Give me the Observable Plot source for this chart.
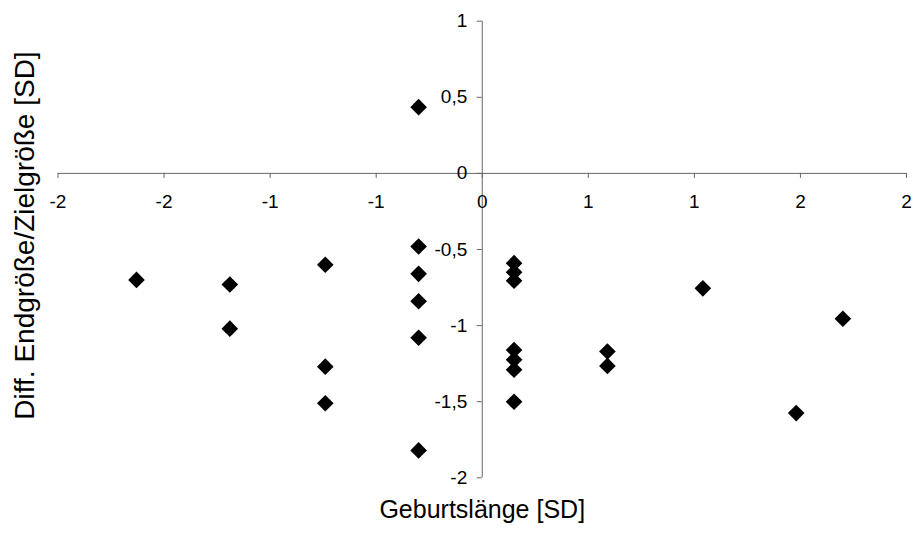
<!DOCTYPE html>
<html><head><meta charset="utf-8">
<script src="https://cdn.jsdelivr.net/npm/d3@7"></script>
<script src="https://cdn.jsdelivr.net/npm/@observablehq/plot@0.6"></script>
<style>html,body{margin:0;padding:0;background:#fff}svg{display:block}</style>
</head><body><div id="chart"></div>
<script>
// Data
const birthLength = [-1.63, -1.19, -1.19, -0.74, -0.74, -0.74, -0.30, -0.30, -0.30, -0.30, -0.30, -0.30,
  0.15, 0.15, 0.15, 0.15, 0.15, 0.15, 0.15, 0.59, 0.59, 1.04, 1.48, 1.70];
const heightDiff = [-0.70, -0.73, -1.02, -0.60, -1.27, -1.51, 0.435, -0.48, -0.66, -0.84, -1.08, -1.82,
  -0.59, -0.65, -0.705, -1.16, -1.225, -1.29, -1.50, -1.17, -1.265, -0.755, -1.575, -0.955];

const xTicks = [-2, -1.5, -1, -0.5, 0, 0.5, 1, 1.5, 2];
const xTickLabels = ["-2", "-2", "-1", "-1", "0", "1", "1", "2", "2"];
const yTicks = [1, 0.5, 0, -0.5, -1, -1.5, -2];
const yTickLabels = ["1", "0,5", "0", "-0,5", "-1", "-1,5", "-2"];
const xTitle = "Geburtslänge [SD]";
const yTitle = "Diff. Endgröße/Zielgröße [SD]";

const points = birthLength.map((x, i) => ({x, y: heightDiff[i]}));
const axisColor = "#666";

const chart = Plot.plot({
  width: 913,
  height: 534,
  marginLeft: 57.5,
  marginRight: 7,
  marginTop: 20.7,
  marginBottom: 56.7,
  style: {fontFamily: "'Liberation Sans', Arial, Helvetica, sans-serif", background: "#fff", color: "#000"},
  x: {domain: [-2, 2], axis: null},
  y: {domain: [-2, 1], axis: null},
  marks: [
    // axes crossing at the origin
    Plot.ruleY([0], {x1: -2, x2: 2, stroke: axisColor, strokeWidth: 1}),
    Plot.ruleX([0], {y1: -2, y2: 1, stroke: axisColor, strokeWidth: 1}),
    // x ticks (downwards)
    Plot.ruleX(xTicks, {x: d => d, y1: 0, y2: 0, insetBottom: -5, stroke: axisColor}),
    // y ticks (to the left)
    Plot.ruleY(yTicks, {y: d => d, x1: 0, x2: 0, insetLeft: -5, stroke: axisColor}),
    // tick labels
    Plot.text(xTicks, {x: d => d, y: 0, text: (d, i) => xTickLabels[i], dy: 29, fontSize: 19, fill: "#000"}),
    Plot.text(yTicks, {x: 0, y: d => d, text: (d, i) => yTickLabels[i], dx: -15, textAnchor: "end", fontSize: 19, fill: "#000"}),
    // axis titles
    Plot.text([xTitle], {frameAnchor: "bottom", textAnchor: "middle", dy: 40, fontSize: 25, fill: "#000"}),
    Plot.text([yTitle], {frameAnchor: "left", textAnchor: "middle", rotate: -90, dx: -33, dy: -14, fontSize: 28, fill: "#000"}),
    // data
    Plot.dot(points, {x: "x", y: "y", symbol: "diamond2", r: 7.5, fill: "#000", stroke: "none"})
  ]
});
document.getElementById("chart").appendChild(chart);
</script>
</body></html>
